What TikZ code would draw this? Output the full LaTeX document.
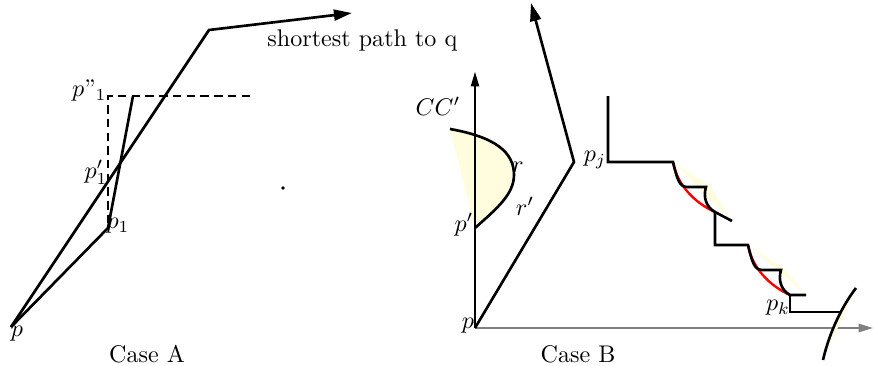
\documentclass[tikz,border=0pt]{standalone}
\usetikzlibrary{arrows.meta}
\definecolor{paleyellow}{RGB}{255,253,222}

\begin{document}
\begin{tikzpicture}[
    x=0.415pt, y=-0.415pt,
    thickline/.style={line width=1.1pt},
    arrow/.style={line width=1.1pt, -{Triangle[length=7.5pt, width=4.5pt]}},
    axis/.style={line width=0.45pt, -{Triangle[length=6pt, width=3.5pt]}},
    dashedline/.style={line width=1.1pt, dash pattern=on 3.5pt off 2.2pt},
    region/.style={fill=paleyellow},
    bound/.style={red, line width=1pt},
    lbl/.style={inner sep=0pt},
    dot/.style={circle, fill, inner sep=0pt, minimum size=1.6pt}
]
\useasboundingbox (0,0) rectangle (873,366);

\coordinate (pA) at (11,327);
\coordinate (pone) at (108,228);
\coordinate (ptop) at (133,96);
\coordinate (bend) at (209,30);
\coordinate (qtip) at (352,13);
\coordinate (dcorner) at (108,96);
\coordinate (dend) at (250,96);

\draw [dashedline] (dend) -- (dcorner) -- (pone);
\draw [thickline] (pA) -- (pone) -- (ptop);
\draw [arrow] (pA) -- (bend) -- (qtip);
\node (mid) [dot] at (283,188) {};

\node (lpA) [lbl] at (17,334) {$p$};
\node (lpdd) [lbl, anchor=base east] at (107,97) {$p$''$_1$};
\node (lpprime) [lbl] at (96,172) {$p'_1$};
\node (lpone) [lbl] at (118,226) {$p_1$};
\node (shortest) [anchor=base west, inner sep=0pt] at (267,46) {shortest path to q};
\node (caseA) [lbl] at (147,354) {Case A};

\coordinate (pB) at (475,328);
\coordinate (ytip) at (475,72);
\coordinate (xtip) at (873,328);
\coordinate (kink) at (574,162);
\coordinate (uptip) at (531,3);
\coordinate (cstart) at (450,129);
\coordinate (pp) at (475,228);

\fill [region] (cstart) .. controls (495,137) and (514,152) .. (514,175)
    .. controls (514,195) and (495,210) .. (pp) -- cycle;
\draw [axis] (pB) -- (ytip);
\draw [axis, gray, line width=0.7pt] (pB) -- (xtip);
\draw [thickline] (cstart) .. controls (495,137) and (514,152) .. (514,175)
    .. controls (514,195) and (495,210) .. (pp);
\draw [arrow] (pB) -- (kink) -- (uptip);

\coordinate (stop) at (608,96);
\coordinate (pj) at (608,162);
\coordinate (sone) at (673,162);
\coordinate (eone) at (715,212);
\coordinate (stepone) at (715,245);
\coordinate (stwo) at (748,245);
\coordinate (etwo) at (790,295);
\coordinate (pk) at (790,312);
\coordinate (sthree) at (840,312);

\fill [region] (sone) -- (710,186) -- (732,221) -- cycle;
\fill [region] (stwo) -- (785,269) -- (806,295) -- cycle;
\fill [region] (856,288) .. controls (843,305) and (830,330) .. (823,360) -- cycle;

\draw [bound] (sone) .. controls (677,185) and (695,203) .. (eone);
\draw [bound] (stwo) .. controls (752,268) and (770,286) .. (etwo);
\draw [thickline] (stop) -- (pj) -- (sone)
    .. controls (677,178) and (679,187) .. (687,187) -- (706,187)
    .. controls (703,197) and (706,207) .. (eone) -- (732,221);
\draw [thickline] (eone) -- (stepone) -- (stwo)
    .. controls (752,261) and (754,270) .. (762,270) -- (781,270)
    .. controls (778,280) and (781,290) .. (etwo) -- (806,295);
\draw [thickline] (etwo) -- (pk) -- (sthree);
\draw [thickline] (856,288) .. controls (843,305) and (830,330) .. (823,360);

\node (lCC) [lbl] at (438,106) {$CC'$};
\node (lr) [lbl] at (518,167) {$r$};
\node (lrprime) [lbl] at (525,206) {$r'$};
\node (lpp) [lbl] at (464,225) {$p'$};
\node (lpj) [lbl] at (595,160) {$p_j$};
\node (lpk) [lbl] at (778,308) {$p_k$};
\node (lpB) [lbl] at (468,326) {$p$};
\node (caseB) [lbl] at (578,354) {Case B};
\end{tikzpicture}
\end{document}
